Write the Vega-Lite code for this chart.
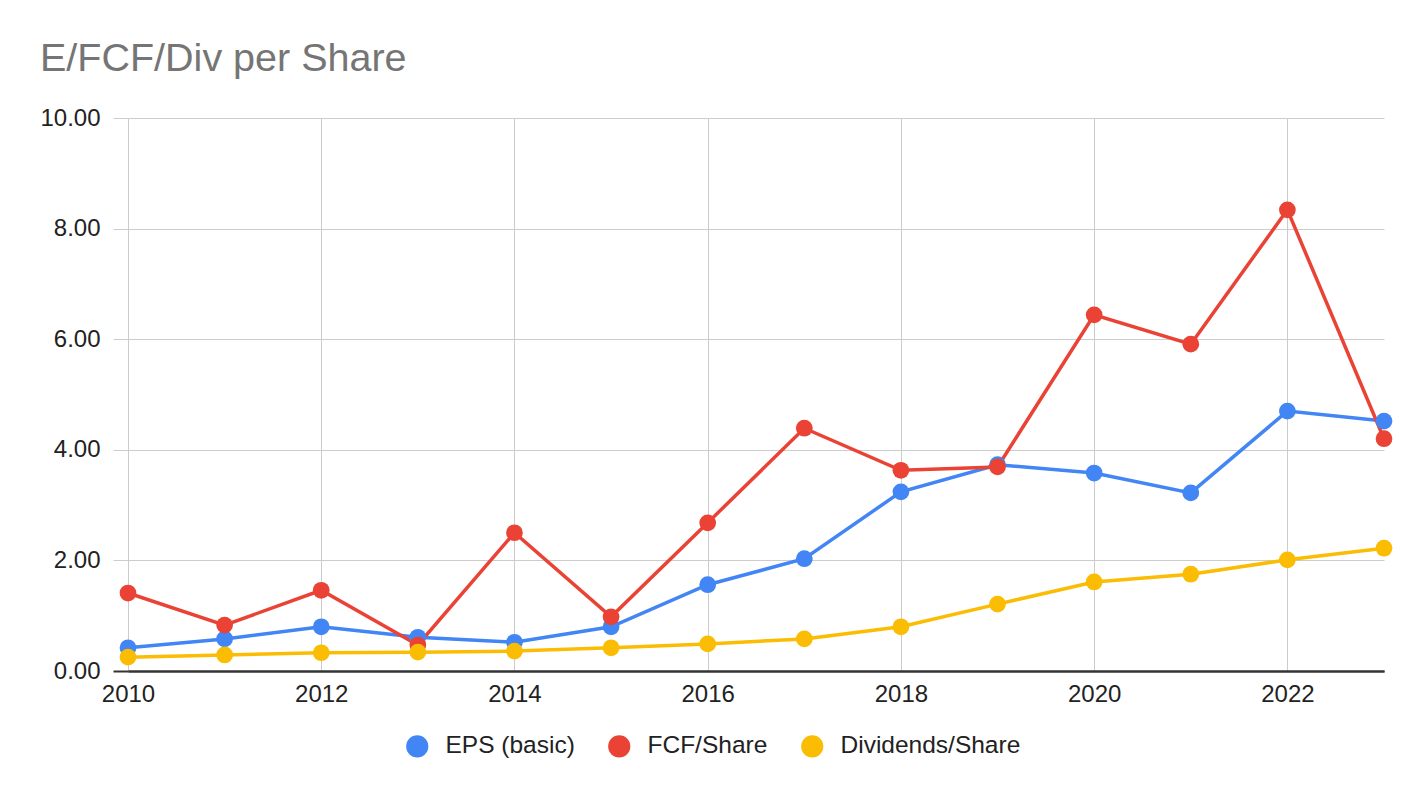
{
  "$schema": "https://vega.github.io/schema/vega-lite/v6.json",
  "autosize": "none",
  "width": 1256,
  "height": 553,
  "padding": {"left": 128, "top": 118, "right": 40, "bottom": 127},
  "background": "white",
  "title": {
    "text": "E/FCF/Div per Share",
    "anchor": "start",
    "frame": "group",
    "font": "Liberation Sans",
    "fontSize": 39.5,
    "fontWeight": "normal",
    "color": "#757575",
    "dx": -88,
    "dy": 50,
    "offset": 46,
    "baseline": "alphabetic"
  },
  "config": {
    "view": {"stroke": null},
    "font": "Liberation Sans"
  },
  "data": {
    "values": [
      {"year": 2010, "series": "EPS (basic)", "value": 0.42},
      {"year": 2011, "series": "EPS (basic)", "value": 0.58},
      {"year": 2012, "series": "EPS (basic)", "value": 0.80},
      {"year": 2013, "series": "EPS (basic)", "value": 0.61},
      {"year": 2014, "series": "EPS (basic)", "value": 0.52},
      {"year": 2015, "series": "EPS (basic)", "value": 0.80},
      {"year": 2016, "series": "EPS (basic)", "value": 1.56},
      {"year": 2017, "series": "EPS (basic)", "value": 2.03},
      {"year": 2018, "series": "EPS (basic)", "value": 3.24},
      {"year": 2019, "series": "EPS (basic)", "value": 3.73},
      {"year": 2020, "series": "EPS (basic)", "value": 3.58},
      {"year": 2021, "series": "EPS (basic)", "value": 3.22},
      {"year": 2022, "series": "EPS (basic)", "value": 4.70},
      {"year": 2023, "series": "EPS (basic)", "value": 4.52},
      {"year": 2010, "series": "FCF/Share", "value": 1.41},
      {"year": 2011, "series": "FCF/Share", "value": 0.83},
      {"year": 2012, "series": "FCF/Share", "value": 1.46},
      {"year": 2013, "series": "FCF/Share", "value": 0.47},
      {"year": 2014, "series": "FCF/Share", "value": 2.50},
      {"year": 2015, "series": "FCF/Share", "value": 0.98},
      {"year": 2016, "series": "FCF/Share", "value": 2.68},
      {"year": 2017, "series": "FCF/Share", "value": 4.39},
      {"year": 2018, "series": "FCF/Share", "value": 3.63},
      {"year": 2019, "series": "FCF/Share", "value": 3.69},
      {"year": 2020, "series": "FCF/Share", "value": 6.44},
      {"year": 2021, "series": "FCF/Share", "value": 5.91},
      {"year": 2022, "series": "FCF/Share", "value": 8.34},
      {"year": 2023, "series": "FCF/Share", "value": 4.20},
      {"year": 2010, "series": "Dividends/Share", "value": 0.25},
      {"year": 2011, "series": "Dividends/Share", "value": 0.29},
      {"year": 2012, "series": "Dividends/Share", "value": 0.33},
      {"year": 2013, "series": "Dividends/Share", "value": 0.34},
      {"year": 2014, "series": "Dividends/Share", "value": 0.36},
      {"year": 2015, "series": "Dividends/Share", "value": 0.42},
      {"year": 2016, "series": "Dividends/Share", "value": 0.49},
      {"year": 2017, "series": "Dividends/Share", "value": 0.58},
      {"year": 2018, "series": "Dividends/Share", "value": 0.80},
      {"year": 2019, "series": "Dividends/Share", "value": 1.21},
      {"year": 2020, "series": "Dividends/Share", "value": 1.61},
      {"year": 2021, "series": "Dividends/Share", "value": 1.75},
      {"year": 2022, "series": "Dividends/Share", "value": 2.01},
      {"year": 2023, "series": "Dividends/Share", "value": 2.22}
    ]
  },
  "encoding": {
    "x": {
      "field": "year",
      "type": "quantitative",
      "scale": {"domain": [2010, 2023], "nice": false, "zero": false},
      "axis": {
        "title": null,
        "values": [2010, 2012, 2014, 2016, 2018, 2020, 2022],
        "format": "d",
        "labelFont": "Liberation Sans",
        "labelFontSize": 24,
        "labelColor": "#222222",
        "labelPadding": 11,
        "labelFlush": false,
        "ticks": false,
        "domainColor": "#333333",
        "domainWidth": 2,
        "gridColor": "#cccccc",
        "gridWidth": 1
      }
    },
    "y": {
      "field": "value",
      "type": "quantitative",
      "scale": {"domain": [0, 10], "nice": false},
      "axis": {
        "title": null,
        "values": [0, 2, 4, 6, 8, 10],
        "format": ".2f",
        "labelFont": "Liberation Sans",
        "labelFontSize": 24,
        "labelColor": "#222222",
        "labelPadding": 13,
        "labelFlush": false,
        "domain": false,
        "tickSize": 15,
        "tickColor": {"condition": {"test": "datum.value === 0", "value": "#333333"}, "value": "#cccccc"},
        "tickWidth": {"condition": {"test": "datum.value === 0", "value": 2}, "value": 1},
        "gridColor": {"condition": {"test": "datum.value === 0", "value": "#333333"}, "value": "#cccccc"},
        "gridWidth": {"condition": {"test": "datum.value === 0", "value": 2}, "value": 1}
      }
    },
    "color": {
      "field": "series",
      "type": "nominal",
      "sort": ["EPS (basic)", "FCF/Share", "Dividends/Share"],
      "scale": {
        "domain": ["EPS (basic)", "FCF/Share", "Dividends/Share"],
        "range": ["#4285F4", "#EA4335", "#FBBC04"]
      },
      "legend": {
        "title": null,
        "orient": "none",
        "direction": "horizontal",
        "legendX": 277,
        "legendY": 616,
        "symbolType": "circle",
        "symbolSize": 490,
        "symbolStrokeWidth": 0,
        "symbolOpacity": 1,
        "labelFont": "Liberation Sans",
        "labelFontSize": 24.5,
        "labelColor": "#222222",
        "labelOffset": 16,
        "labelLimit": 400,
        "columnPadding": 32
      }
    }
  },
  "layer": [
    {
      "mark": {"type": "line", "strokeWidth": 3.5}
    },
    {
      "mark": {"type": "circle", "size": 280, "opacity": 1}
    }
  ]
}
